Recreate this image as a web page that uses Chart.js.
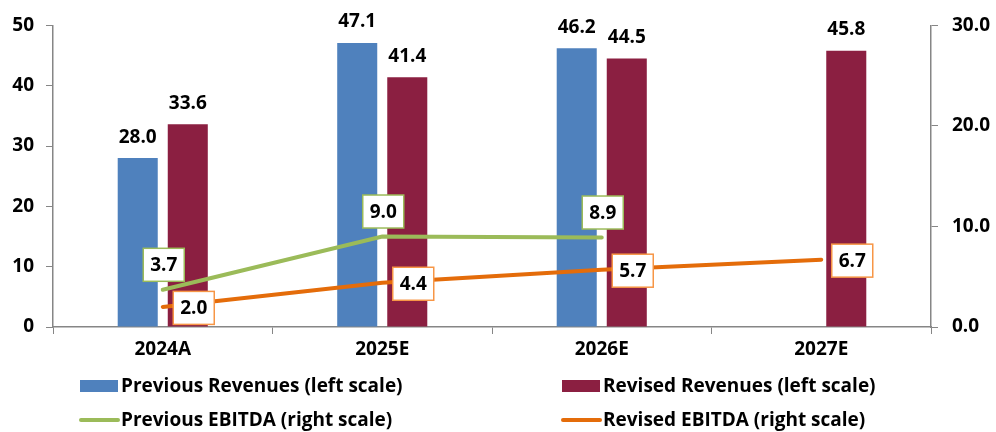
<!DOCTYPE html>
<html>
<head>
<meta charset="utf-8">
<script src="https://cdn.jsdelivr.net/npm/chart.js@4.4.1/dist/chart.umd.min.js"></script>
<style>
  html, body { margin: 0; padding: 0; background: #fff; }
  #wrap { width: 996px; height: 432px; position: relative; }
</style>
</head>
<body>
<div id="wrap"><canvas id="revChart"></canvas></div>
<script>
// Revenues (left scale) and EBITDA (right scale)
const categories = ['2024A', '2025E', '2026E', '2027E'];
const prevRevenues = [28.0, 47.1, 46.2, null];
const revRevenues = [33.6, 41.4, 44.5, 45.8];
const prevEbitda = [3.7, 9.0, 8.9, null];
const revEbitda = [2.0, 4.4, 5.7, 6.7];
const leftTicks = [0, 10, 20, 30, 40, 50];
const rightTicks = [0, 10, 20, 30];

const FONT = '"Open Sans", Lato, sans-serif';
const AXIS = '#868686';

// value labels: plain text over bars, boxed labels next to lines
const valueLabels = {
    id: 'valueLabels',
    afterDatasetsDraw(chart) {
        const c = chart.ctx;
        c.save();
        c.font = 'bold 19px ' + FONT;
        c.textAlign = 'center';
        c.textBaseline = 'middle';
        chart.data.datasets.forEach((ds, i) => {
            const meta = chart.getDatasetMeta(i);
            meta.data.forEach((el, j) => {
                const v = ds.data[j];
                if (v === null || v === undefined) return;
                const txt = v.toFixed(1);
                if (ds.type === 'bar') {
                    c.fillStyle = '#000';
                    c.fillText(txt, el.x, el.y - 21);
                } else {
                    const cx = el.x + ds.labelDx;
                    const cy = el.y + ds.labelDy;
                    const w = 41, h = 33;
                    c.fillStyle = '#fff';
                    c.fillRect(cx - w / 2, cy - h / 2, w, h);
                    c.strokeStyle = ds.labelBorder;
                    c.lineWidth = 1.5;
                    c.strokeRect(cx - w / 2, cy - h / 2, w, h);
                    c.fillStyle = '#000';
                    c.fillText(txt, cx, cy + 1);
                }
            });
        });
        c.restore();
    }
};

// two-column legend under the x axis
const gridLegend = {
    id: 'gridLegend',
    afterDraw(chart) {
        const c = chart.ctx;
        const cols = [80, 562];
        const rows = [386, 420];
        c.save();
        c.font = 'bold 19px ' + FONT;
        c.textBaseline = 'middle';
        c.textAlign = 'left';
        chart.data.datasets.forEach((ds, k) => {
            const x = cols[k % 2], y = rows[Math.floor(k / 2)];
            if (ds.type === 'bar') {
                c.fillStyle = ds.backgroundColor;
                c.fillRect(x, y - 6, 38, 12);
            } else {
                c.strokeStyle = ds.borderColor;
                c.lineWidth = 4;
                c.lineCap = 'round';
                c.beginPath();
                c.moveTo(x + 1, y);
                c.lineTo(x + 38, y);
                c.stroke();
            }
            c.fillStyle = '#000';
            c.fillText(ds.label, x + 41, y + 1);
        });
        c.restore();
    }
};

const ctx = document.getElementById('revChart').getContext('2d');
const revChart = new Chart(ctx, {
    data: {
        labels: categories,
        datasets: [
            {
                type: 'bar',
                label: 'Previous Revenues (left scale)',
                data: prevRevenues,
                backgroundColor: '#4F81BD',
                yAxisID: 'y',
                order: 2,
                categoryPercentage: 0.456,
                barPercentage: 0.8
            },
            {
                type: 'bar',
                label: 'Revised Revenues (left scale)',
                data: revRevenues,
                backgroundColor: '#8B1F41',
                yAxisID: 'y',
                order: 2,
                categoryPercentage: 0.456,
                barPercentage: 0.8
            },
            {
                type: 'line',
                label: 'Previous EBITDA (right scale)',
                data: prevEbitda,
                borderColor: '#9BBB59',
                borderWidth: 4,
                borderCapStyle: 'round',
                pointRadius: 0,
                yAxisID: 'y1',
                order: 0,
                labelDx: 1,
                labelDy: -25,
                labelBorder: '#9BBB59'
            },
            {
                type: 'line',
                label: 'Revised EBITDA (right scale)',
                data: revEbitda,
                borderColor: '#E46C0A',
                borderWidth: 4,
                borderCapStyle: 'round',
                pointRadius: 0,
                yAxisID: 'y1',
                order: 0,
                labelDx: 31,
                labelDy: 1,
                labelBorder: '#F79646'
            }
        ]
    },
    options: {
        responsive: true,
        maintainAspectRatio: false,
        animation: false,
        layout: { padding: { top: 22, bottom: 70, left: 0, right: 0 } },
        plugins: {
            legend: { display: false },
            tooltip: { enabled: false }
        },
        scales: {
            x: {
                offset: true,
                grid: { offset: true, drawOnChartArea: false, tickLength: 7, color: AXIS },
                border: { color: AXIS, width: 1.5 },
                ticks: { color: '#000', font: { family: FONT, size: 19, weight: 'bold' }, padding: 4 },
                afterFit(scale) { scale.height = 35; }
            },
            y: {
                position: 'left',
                min: leftTicks[0],
                max: leftTicks[leftTicks.length - 1],
                afterBuildTicks(scale) { scale.ticks = leftTicks.map(v => ({ value: v })); },
                grid: { drawOnChartArea: false, tickLength: 7, color: AXIS },
                border: { color: AXIS, width: 1.5 },
                ticks: { color: '#000', font: { family: FONT, size: 19, weight: 'bold' }, padding: 12 },
                afterFit(scale) { scale.width = 53; }
            },
            y1: {
                position: 'right',
                min: rightTicks[0],
                max: rightTicks[rightTicks.length - 1],
                afterBuildTicks(scale) { scale.ticks = rightTicks.map(v => ({ value: v })); },
                grid: { drawOnChartArea: false, tickLength: 7, color: AXIS },
                border: { color: AXIS, width: 1.5 },
                ticks: {
                    color: '#000',
                    font: { family: FONT, size: 19, weight: 'bold' },
                    padding: 14,
                    callback: v => Number(v).toFixed(1)
                },
                afterFit(scale) { scale.width = 65; }
            }
        }
    },
    plugins: [valueLabels, gridLegend]
});
</script>
</body>
</html>
